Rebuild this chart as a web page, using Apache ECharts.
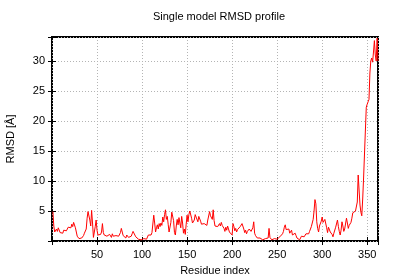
<!DOCTYPE html>
<html>
<head>
<meta charset="utf-8">
<script src="https://cdn.jsdelivr.net/npm/echarts@6/dist/echarts.min.js"></script>
<style>html,body{margin:0;padding:0;background:#fff}#c{width:400px;height:280px}</style>
</head>
<body>
<div id="c"></div>
<script>
const titleText = 'Single model RMSD profile';
const xLabel = 'Residue index';
const yLabel = 'RMSD [Å]';
const xTicks = [50, 100, 150, 200, 250, 300, 350];
const yTicks = [5, 10, 15, 20, 25, 30];
const rmsd = [
  4.9, 2.5, 1.5, 1.8, 2.0, 1.6, 2.2, 1.9, 1.4, 1.2,
  1.5, 1.3, 1.8, 1.6, 2.1, 1.7, 1.9, 2.3, 2.0, 2.5,
  2.2, 2.8, 2.4, 3.1, 2.9, 2.2, 1.5, 0.8, 0.5, 0.4,
  0.6, 0.3, 0.5, 0.4, 0.9, 1.3, 1.1, 2.0, 3.8, 4.9,
  5.2, 3.5, 2.5, 5.1, 3.0, 0.6, 1.5, 2.4, 3.5, 1.8,
  1.0, 1.2, 0.8, 1.1, 1.5, 2.9, 1.4, 1.0, 0.9, 1.2,
  0.8, 1.0, 0.7, 1.1, 0.9, 0.6, 1.2, 0.8, 1.0, 0.5,
  0.9, 0.7, 1.2, 0.8, 1.0, 1.4, 2.1, 1.8, 0.9, 0.6,
  0.8, 0.5, 1.0, 0.7, 0.6, 0.9, 0.5, 0.8, 1.2, 1.6,
  1.8, 1.3, 0.7, 0.5, 0.6, 0.3, 0.5, 0.4, 0.2, 0.3,
  0.2, 0.4, 0.3, 0.5, 0.3, 0.6, 1.0, 0.9, 1.2, 1.0,
  1.4, 1.1, 4.3, 3.0, 1.5, 2.2, 2.7, 2.0, 2.9, 2.4,
  3.0, 2.6, 4.0, 3.2, 4.4, 5.2, 3.6, 4.1, 2.8, 1.5,
  1.2, 3.1, 4.8, 5.0, 3.4, 1.4, 1.0, 2.5, 3.6, 2.7,
  3.9, 3.0, 2.2, 4.1, 3.0, 1.3, 2.0, 1.1, 2.8, 4.3,
  3.2, 4.4, 5.0, 5.3, 3.8, 3.0, 2.7, 3.5, 4.4, 4.0,
  3.7, 3.2, 4.1, 3.9, 3.3, 2.8, 3.1, 2.6, 2.9, 2.7,
  2.8, 2.6, 3.5, 3.8, 4.9, 4.2, 4.5, 3.6, 5.2, 3.4,
  2.5, 2.2, 2.6, 2.4, 2.7, 2.9, 2.5, 3.1, 2.6, 2.4,
  2.1, 1.6, 2.3, 1.8, 2.5, 2.0, 1.5, 1.8, 1.2, 1.0,
  2.9, 2.4, 1.7, 2.1, 1.5, 1.9, 1.7, 2.2, 2.4, 2.1,
  2.9, 2.8, 2.0, 1.4, 1.8, 1.2, 1.6, 1.5, 2.0, 1.8,
  1.6, 1.4, 2.2, 3.2, 1.3, 0.9, 0.6, 0.5, 0.7, 0.4,
  0.5, 0.3, 0.4, 0.2, 0.3, 0.2, 0.4, 0.2, 0.3, 0.5,
  2.1, 0.6, 0.3, 0.2, 0.3, 0.2, 0.4, 0.3, 0.2, 0.3,
  0.2, 0.5, 0.7, 0.6, 0.9, 1.2, 1.6, 2.3, 2.7, 1.9,
  1.8, 2.2, 2.0, 1.3, 1.5, 1.8, 1.0, 0.8, 1.2, 1.3,
  0.9, 0.5, 0.3, 0.4, 0.2, 0.5, 0.8, 0.6, 1.0, 0.7,
  1.0, 1.2, 0.9, 1.3, 1.2, 1.6, 2.0, 2.4, 2.2, 3.6,
  5.0, 6.9, 6.2, 3.2, 2.1, 1.5, 2.5, 2.8, 3.3, 4.0,
  3.1, 2.8, 3.6, 3.4, 2.2, 1.4, 2.3, 2.0, 1.5, 1.8,
  1.1, 0.7, 1.3, 1.5, 2.3, 2.6, 3.5, 2.4, 1.6, 1.0,
  1.8, 3.2, 2.5, 1.6, 2.0, 2.3, 3.8, 3.0, 2.1, 2.6,
  2.4, 3.1, 3.8, 4.7, 4.5, 4.7, 5.0, 4.8, 6.5, 11.0,
  8.5, 6.0, 4.8, 4.2, 7.0, 10.5, 14.5, 18.5, 22.3, 22.8,
  23.2, 23.6, 28.0, 30.0, 30.5, 29.8, 31.5, 33.4, 31.0, 30.0,
  33.8, 30.0
];
const residues = rmsd.map((_, i) => i + 1);
const points = residues.map((r, i) => [r, rmsd[i]]);

const FONT = 'Liberation Sans';
const gridLine = { show: true, lineStyle: { color: '#b4b4b4', type: [1, 2], width: 1 } };
const tickFmt = (list) => (v) => list.includes(v) ? String(v) : '';

const chart = echarts.init(document.getElementById('c'), null, { renderer: 'canvas' });
chart.setOption({
  animation: false,
  backgroundColor: '#fff',
  textStyle: { fontFamily: FONT },
  title: {
    text: titleText, left: 214, top: 6, textAlign: 'center',
    textStyle: { fontFamily: FONT, fontSize: 11, fontWeight: 'normal', color: '#000' }
  },
  grid: { left: 52, right: 22, top: 37, bottom: 39, show: true, borderColor: '#000', borderWidth: 2, backgroundColor: 'transparent', containLabel: false, outerBoundsMode: 'none' },
  xAxis: [{
    type: 'value', min: 0, max: 362, interval: 50,
    name: xLabel, nameLocation: 'middle', nameGap: 24,
    nameTextStyle: { fontFamily: FONT, fontSize: 11, color: '#000' },
    axisLine: { show: false },
    axisTick: { show: true, inside: true, length: 4, lineStyle: { color: '#000' } },
    axisLabel: { formatter: tickFmt(xTicks), color: '#000', fontSize: 11, fontFamily: FONT, margin: 8 },
    splitLine: gridLine
  }, {
    type: 'value', min: 0, max: 362, interval: 50, position: 'top',
    axisLine: { show: false },
    axisTick: { show: true, inside: true, length: 4, lineStyle: { color: '#000' } },
    axisLabel: { show: false }, splitLine: { show: false }
  }],
  yAxis: [{
    type: 'value', min: 0, max: 34, interval: 5,
    name: yLabel, nameLocation: 'middle', nameGap: 36, nameRotate: 90,
    nameTextStyle: { fontFamily: FONT, fontSize: 11, color: '#000' },
    axisLine: { show: false },
    axisTick: { show: true, inside: true, length: 4, lineStyle: { color: '#000' } },
    axisLabel: { formatter: tickFmt(yTicks), color: '#000', fontSize: 11, fontFamily: FONT, margin: 7 },
    splitLine: gridLine
  }, {
    type: 'value', min: 0, max: 34, interval: 5, position: 'right',
    axisLine: { show: false },
    axisTick: { show: true, inside: true, length: 4, lineStyle: { color: '#000' } },
    axisLabel: { show: false }, splitLine: { show: false }
  }],
  series: [{
    type: 'line', data: points, xAxisIndex: 0, yAxisIndex: 0,
    showSymbol: false, symbol: 'none',
    lineStyle: { color: '#ff0000', width: 1 },
    z: 3
  }]
});
</script>
</body>
</html>
